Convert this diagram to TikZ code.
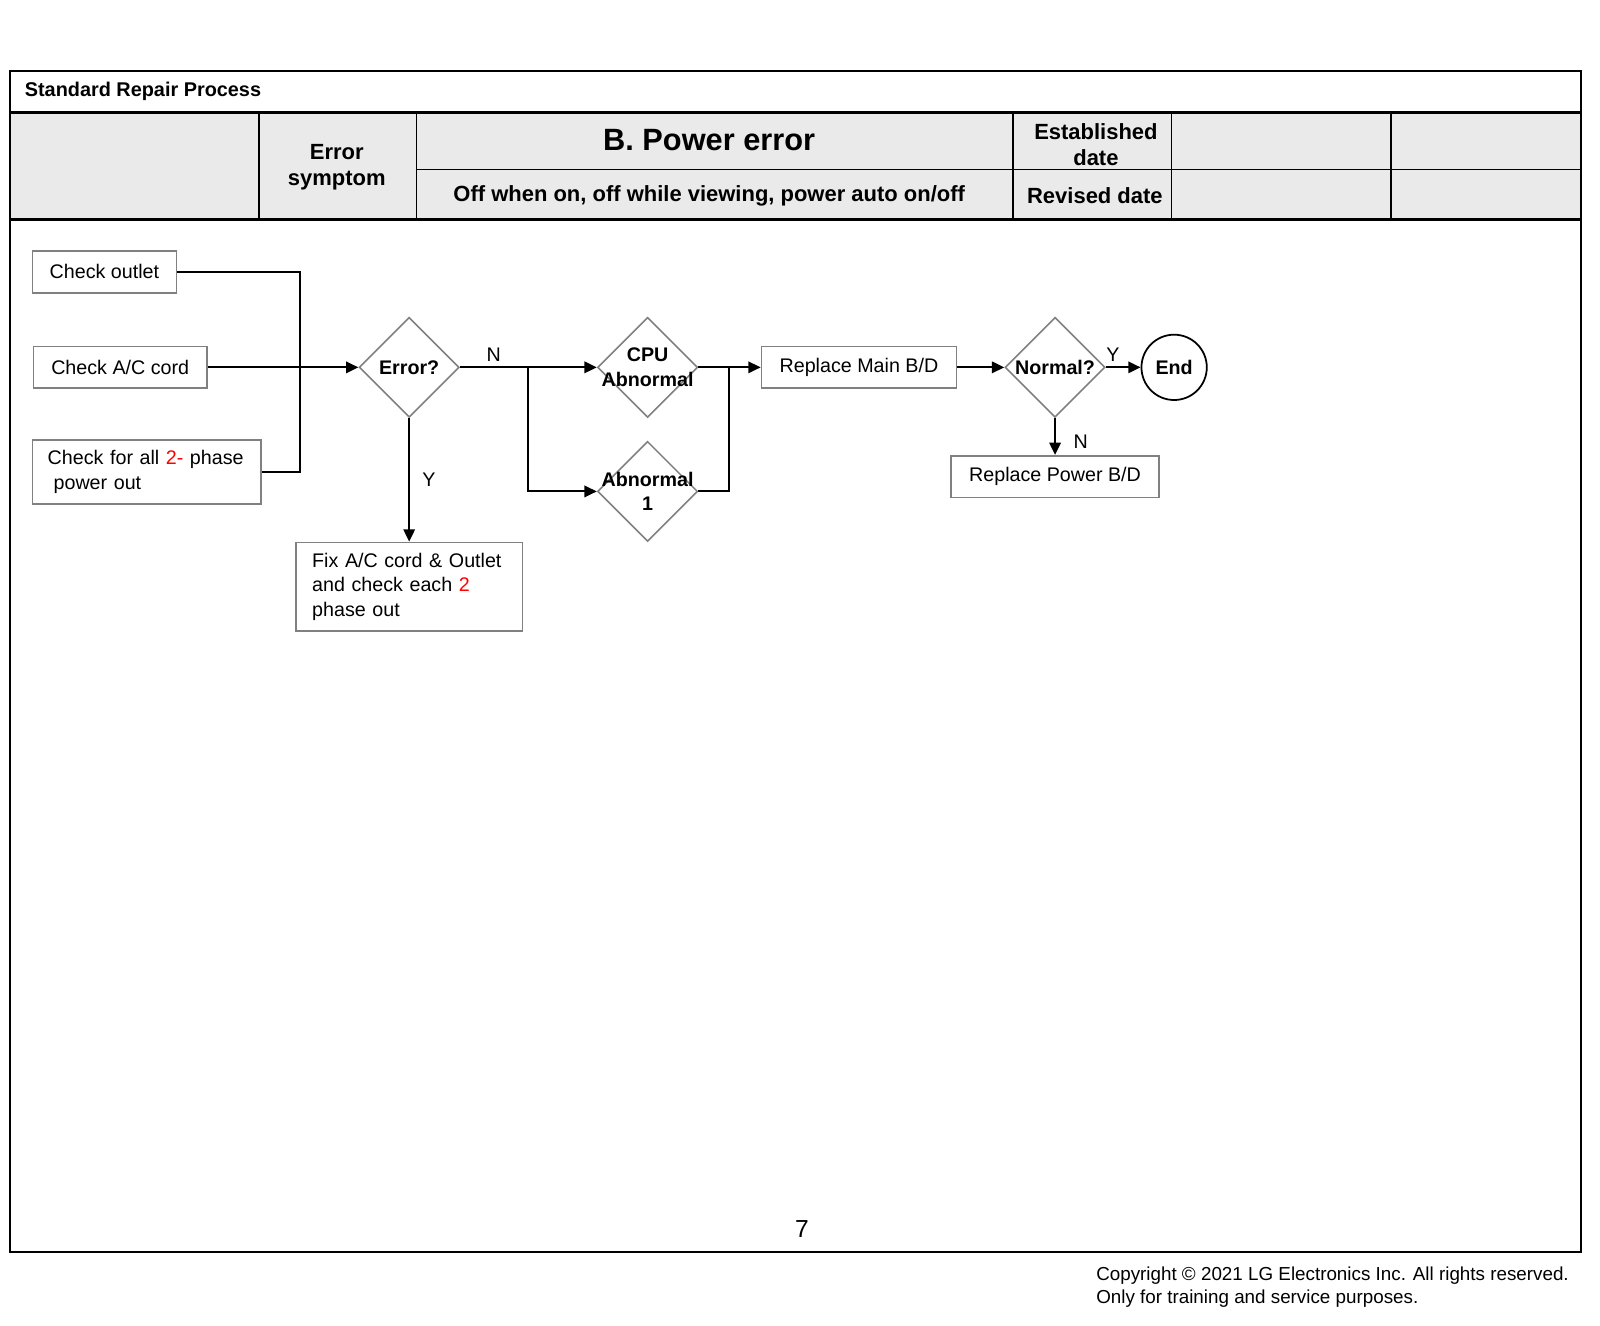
\documentclass[tikz,border=0pt]{standalone}
\usepackage{fontspec}
\setmainfont{Liberation Sans}
\usepackage{xcolor}
\usepackage{tikz}
\usetikzlibrary{shapes.geometric, positioning, arrows.meta}
\newcommand{\flowfont}{\fontsize{11.2}{13.9}\selectfont}
\newcommand{\headfont}{\fontsize{12.5}{15}\selectfont}
\newcommand{\sheetfont}{\fontsize{11.3}{13.5}\selectfont}
\newcommand{\bigfont}{\fontsize{17.5}{21}\selectfont}
\newcommand{\copyfont}{\fontsize{10.7}{13.3}\selectfont}
\newcommand{\pagefont}{\fontsize{14}{16}\selectfont}
\definecolor{headfill}{HTML}{EAEAEA}
\tikzset{>={Triangle[length=7pt, width=6.5pt]},
  box/.style={draw=gray, line width=0.9pt, rectangle, minimum height=0.837cm, inner sep=0pt, font=\flowfont},
  decision/.style={draw=gray, line width=0.9pt, diamond, minimum width=2cm, minimum height=2cm, inner sep=0pt},
  dlabel/.style={font=\flowfont\bfseries, align=center, inner sep=0pt},
  terminal/.style={draw, line width=1pt, circle, minimum size=1.306cm, inner sep=0pt, font=\flowfont\bfseries},
  link/.style={line width=1.1pt},
  flow/.style={link, ->},
  tag/.style={font=\flowfont, inner sep=3pt},
  rule/.style={line width=0.9pt},
  frame/.style={line width=1.1pt},
  heavyrule/.style={line width=1.8pt},
  head/.style={font=\headfont\bfseries, align=center, inner sep=0pt}}

\begin{document}
\begin{tikzpicture}[x=0.020408cm, y=-0.020408cm]
	\useasboundingbox (0,0) rectangle (1568,1299);
	\fill[headfill] (10,110) rectangle (1549,215);
	\draw[frame] (10,70) rectangle (1549,1227);
	\draw[heavyrule] (10,110) -- (1549,110) (10,215) -- (1549,215);
	\draw[rule] (408,166) -- (1549,166);
	\foreach \x in {254,408,993,1148,1363} \draw[rule] (\x,110) -- (\x,215);

	\node[font=\sheetfont\bfseries, anchor=west, inner sep=0pt] (sheet) at (24,90) {Standard Repair Process};
	\node[head] (symptom) at (330,164) {Error\\symptom};
	\node[font=\bigfont\bfseries, inner sep=0pt] (title) at (695,137) {B. Power error};
	\node[head] (desc) at (695,192) {Off when on, off while viewing, power auto on/off};
	\node[head] (est) at (1074,141.5) {Established\\date};
	\node[head] (rev) at (1073,192) {Revised date};

	\node[box, anchor=west, minimum width=2.878cm] (outlet) at (31,266.5) {Check outlet};
	\node[box, anchor=west, minimum width=3.469cm] (accord) at (32,360) {Check A/C cord};
	\node[box, anchor=west, minimum width=4.571cm, minimum height=1.286cm, text width=3.959cm, inner xsep=0.306cm, align=left] (phase) at (31,462.5) {Check for all \textcolor{red}{2-} phase\\\hspace{0.3em}power out};
	\coordinate (bus) at (294,360);
	\node[decision] (err) at (401,360) {};
	\node[dlabel] (errtxt) at (err.center) {Error?};
	\node[box, below=2.469cm of err, minimum width=4.531cm, minimum height=1.776cm, text width=3.878cm, inner xsep=0.327cm, align=left] (fix) {Fix A/C cord \& Outlet\\and check each \textcolor{red}{2}\\phase out};
	\coordinate (split) at (517,360);
	\node[decision, right=2.735cm of err] (cpu) {};
	\node[dlabel] (cputxt) at (cpu.center) {CPU\\Abnormal};
	\node[decision, below=0.449cm of cpu] (ab1) {};
	\node[dlabel] (ab1txt) at (ab1.center) {Abnormal\\1};
	\coordinate (join) at (714,360);
	\node[box, right=1.245cm of cpu, minimum width=3.898cm] (main) {Replace Main B/D};
	\node[decision, right=0.94cm of main] (norm) {};
	\node[dlabel] (normtxt) at (norm.center) {Normal?};
	\node[terminal, right=0.694cm of norm] (end) {End};
	\node[box, below=0.735cm of norm, minimum width=4.163cm] (power) {Replace Power B/D};

	\draw[link] (outlet.east) -| (bus) |- (phase.east);
	\draw[flow] (accord.east) -- (err.west);
	\draw[flow] (err.south) -- node[tag, right, xshift=4] (yes1) {Y} (fix.north);
	\draw[link] (err.east) -- node[tag, above] (no1) {N} (split);
	\draw[flow] (split) -- (cpu.west);
	\draw[flow] (split) |- (ab1.west);
	\draw[link] (cpu.east) -- (join);
	\draw[link] (ab1.east) -| (join);
	\draw[flow] (join) -- (main.west);
	\draw[flow] (main.east) -- (norm.west);
	\draw[flow] (norm.east) -- node[tag, above, pos=0.2] (yes2) {Y} (end.west);
	\draw[flow] (norm.south) -- node[tag, right, xshift=7, yshift=-3] (no2) {N} (power.north);

	\node[font=\pagefont] (page) at (786,1204) {7};
	\node[font=\copyfont, align=left, anchor=west, inner sep=0pt] (copy) at (1074,1261.5) {Copyright © 2021 LG Electronics Inc. All rights reserved.\\Only for training and service purposes.};
\end{tikzpicture}
\end{document}
